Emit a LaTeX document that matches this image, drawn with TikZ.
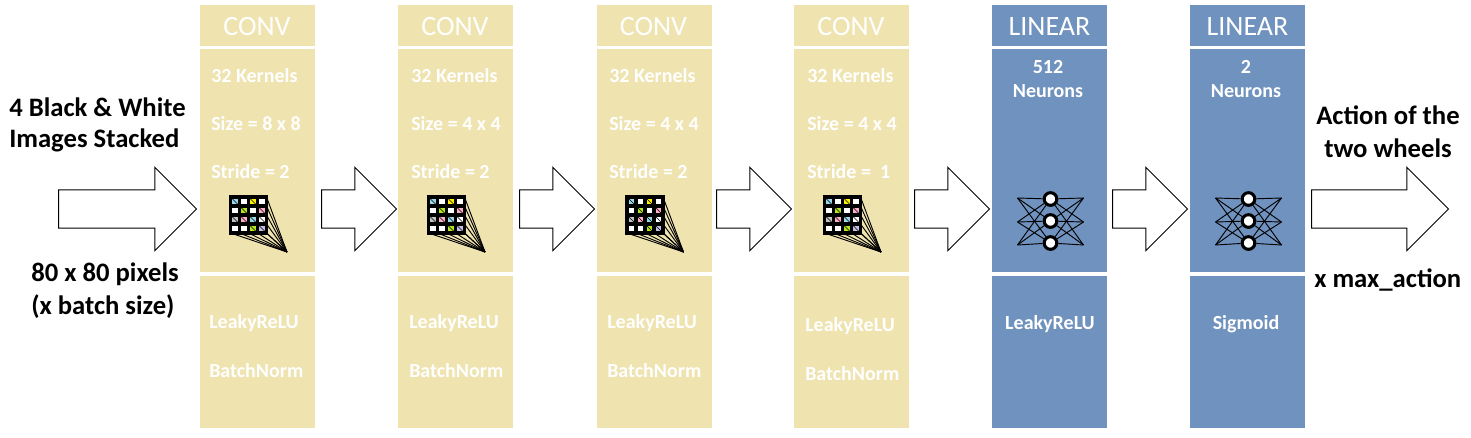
\documentclass[tikz,border=0pt]{standalone}
\usepackage{fontspec}
\setmainfont{Carlito}
\usetikzlibrary{shapes.arrows}
\definecolor{convtan}{RGB}{239,227,176}
\definecolor{linblue}{RGB}{112,146,190}
\definecolor{kerblue}{RGB}{153,217,234}
\definecolor{keryellow}{RGB}{255,242,0}
\definecolor{kergreen}{RGB}{181,230,29}
\definecolor{kerpink}{RGB}{255,174,201}
\definecolor{kergray}{RGB}{195,195,195}
\definecolor{kerlilac}{RGB}{200,191,231}
\tikzset{
    headtext/.style={text=white, font=\fontsize{21}{23}\selectfont, inner sep=0pt},
    infotext/.style={text=white, font=\fontsize{15}{17}\selectfont\bfseries, inner sep=0pt},
    sidetext/.style={text=black, font=\fontsize{20}{22}\selectfont\bfseries, inner sep=0pt},
    flowarrow/.style={draw=black, fill=white, line width=0.75pt, single arrow, inner xsep=0pt, inner ysep=13.9pt,
        minimum width=61.5pt, single arrow head extend=16.9pt, single arrow tip angle=90, anchor=tail},
    neuron/.style={circle, draw=black, fill=white, line width=2.3pt, minimum size=9.5pt, inner sep=0pt},
    kernels/.pic={
        \foreach \cx in {0,...,3}
            \foreach \cy in {0,...,3}
                \draw [black, line width=2.4pt, fill=white] (\cx*9, \cy*9) rectangle ++(9, 9);
        \foreach \cx/\cy/\col in {0/0/kerblue, 2/0/keryellow, 1/1/kergreen, 3/1/kerpink, 0/2/kergray,
                1/2/kerpink, 2/2/kerblue, 3/2/white, 2/3/kergreen, 3/3/kerlilac} {
            \fill [\col] (\cx*9+1.6, \cy*9+1.6) rectangle ++(5.8, 5.8);
            \draw [black, line width=0.3pt] (\cx*9+1.6, \cy*9+1.6) -- ++(5.8, 5.8);
        }
        \coordinate (apex) at (56.5, 55);
        \foreach \k in {0,...,4} {
            \draw [black, line width=0.7pt] (36, \k*9) -- (apex);
            \draw [black, line width=0.7pt] (\k*9, 36) -- (apex);
        }
    },
    hiddenlayer/.pic={
        \foreach \j/\yl/\yc in {1/-23/-22, 2/1/0, 3/24/22} {
            \coordinate (inl\j) at (-33, \yl);
            \coordinate (outr\j) at (33, \yl);
            \node [neuron] (mid\j) at (0, \yc) {};
        }
        \foreach \a in {1,2,3}
            \foreach \b in {1,2,3} {
                \draw [black, line width=0.7pt] (inl\a) -- (mid\b);
                \draw [black, line width=0.7pt] (mid\a) -- (outr\b);
            }
    },
}
\begin{document}
\begin{tikzpicture}[x=0.75pt, y=-0.75pt]
    \useasboundingbox [fill=white] (0,0) rectangle (1471,437);
    % conv blocks
    \foreach \bx/\tx/\ly/\st/\sz/\id in {200/211/323/2/8 x 8/a, 398/411/323/2/4 x 4/b, 596.5/609/323/2/4 x 4/c, 794/807/326/{ 1}/4 x 4/d} {
        \fill [convtan] (\bx, 5) rectangle ++(115, 40.5);
        \fill [convtan] (\bx, 49) rectangle ++(115, 223);
        \fill [convtan] (\bx, 276) rectangle ++(115, 152);
        \node [headtext] (head\id) at (\bx+57, 27) {CONV};
        \node [infotext, anchor=west] (kern\id) at (\tx, 75.5) {32 Kernels};
        \node [infotext, anchor=west] (size\id) at (\tx, 123.5) {Size = \sz};
        \node [infotext, anchor=west] (strd\id) at (\tx, 171.5) {Stride = \st};
        \node [infotext, anchor=west] (actv\id) at (\tx-2, \ly) {LeakyReLU};
        \node [infotext, anchor=west] (norm\id) at (\tx-2, \ly+48) {BatchNorm};
        \pic at (\bx+30.5, 197) {kernels};
    }
    % linear blocks
    \foreach \bx/\num/\fn/\fx/\id in {992/512/LeakyReLU/1050/e, 1190/2/Sigmoid/1246/f} {
        \fill [linblue] (\bx, 5) rectangle ++(115, 40.5);
        \fill [linblue] (\bx, 49) rectangle ++(115, 223);
        \fill [linblue] (\bx, 276) rectangle ++(115, 152);
        \node [headtext] (head\id) at (\bx+57.5, 27) {LINEAR};
        \node [infotext] (num\id) at (\bx+56, 67) {\num};
        \node [infotext] (neur\id) at (\bx+56, 91) {Neurons};
        \node [infotext] (actv\id) at (\fx, 324.5) {\fn};
        \pic at (\bx+58.5, 221) {hiddenlayer};
    }
    % arrows
    \node [flowarrow, minimum height=103.5pt] (inarrow) at (58, 209) {};
    \foreach \ax/\id in {321/1, 519/2, 716/3, 914/4, 1112/5}
        \node [flowarrow, minimum height=56.25pt] (arrow\id) at (\ax, 209) {};
    \node [flowarrow, minimum height=102.75pt] (outarrow) at (1311, 209) {};
    % side labels
    \node [sidetext, anchor=west] (intop) at (9, 107) {4 Black \& White};
    \node [sidetext, anchor=west] (inmid) at (9, 140.5) {Images Stacked};
    \node [sidetext, anchor=west] (inlow) at (31, 274) {80 x 80 pixels};
    \node [sidetext, anchor=west] (inbat) at (31, 307) {(x batch size)};
    \node [sidetext] (outtop) at (1388, 115) {Action of the};
    \node [sidetext] (outmid) at (1388, 148) {two wheels};
    \node [sidetext, anchor=west] (outlow) at (1314, 280) {x max\_action};
\end{tikzpicture}
\end{document}
